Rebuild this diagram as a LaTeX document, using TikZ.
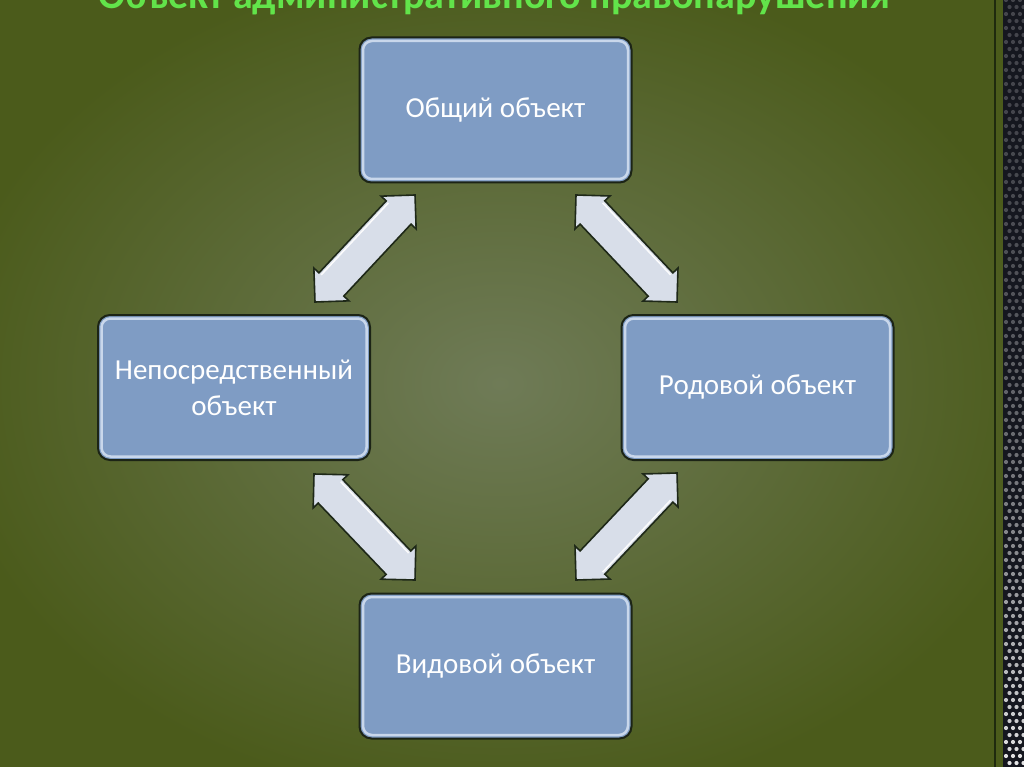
\documentclass[tikz,border=0pt]{standalone}
\usepackage{fontspec}
\setmainfont{Carlito}
\usetikzlibrary{calc}
\definecolor{bgin}{HTML}{6F7B57}
\definecolor{bgout}{HTML}{4B5B1B}
\definecolor{boxfill}{HTML}{7F9CC4}
\definecolor{boxline}{HTML}{1C2416}
\definecolor{boxlight}{HTML}{D6E2F2}
\definecolor{arrfill}{HTML}{D8DEE9}
\definecolor{arrline}{HTML}{1E2818}
\definecolor{titlegreen}{HTML}{62E44A}
\definecolor{stripbase}{HTML}{15171F}
\definecolor{stripline}{HTML}{1F2A0E}
\tikzset{
  diagbox/.style={draw=boxline, line width=2pt, fill=boxfill, rounded corners=12pt,
    minimum width=272pt, minimum height=145pt, text=white, align=center, inner sep=0pt,
    font=\fontsize{29}{36}\selectfont,
    path picture={\draw[boxlight, line width=2.5pt, rounded corners=9pt, opacity=0.85]
      ($(path picture bounding box.south west)+(3.5,-3.5)$) rectangle
      ($(path picture bounding box.north east)+(-3.5,3.5)$);}},
  blockarrow/.style={fill=arrfill, draw=arrline, line width=1.6pt, line join=miter},
  titletext/.style={text=titlegreen, font=\bfseries\fontsize{40}{44}\selectfont, inner sep=0pt}
}
\newcommand\blockarr[3]{%
  \coordinate (#3ba) at ($(#1)!24pt!(#2)$);
  \coordinate (#3bb) at ($(#2)!24pt!(#1)$);
  \filldraw[blockarrow] (#1)
    -- ($(#3ba)!24pt!90:(#2)$)
    -- ($(#3ba)!17pt!90:(#2)$)
    -- ($(#3bb)!17pt!-90:(#1)$)
    -- ($(#3bb)!24pt!-90:(#1)$)
    -- (#2)
    -- ($(#3bb)!24pt!90:(#1)$)
    -- ($(#3bb)!17pt!90:(#1)$)
    -- ($(#3ba)!17pt!-90:(#2)$)
    -- ($(#3ba)!24pt!-90:(#2)$)
    -- cycle;
  \draw[white, line width=1.6pt, opacity=0.9]
    ($(#3ba)!14pt!90:(#2)$) -- ($(#3bb)!14pt!-90:(#1)$);
}
\begin{document}
\begin{tikzpicture}[x=1pt,y=-1pt]
\useasboundingbox (0,0) rectangle (1024,767);
\clip (0,0) rectangle (1024,767);
% background
\shade[inner color=bgin, outer color=bgout] (-60,-40) rectangle (1060,807);
% right strip
\fill[stripbase] (1003,0) rectangle (1024,767);
\foreach \r in {0,...,110} {
  \pgfmathsetmacro\yy{\r*7}
  \pgfmathtruncatemacro\pp{20+70*(\yy/767)^2.5}
  \foreach \c in {0,1,2} {
    \pgfmathsetmacro\xx{1006+\c*7+mod(\r,2)*3.5}
    \fill[white!\pp!stripbase] (\xx,\yy) circle (2.1pt);
  }
}
\draw[stripline, line width=1.6pt] (995,0) -- (995,767);
% title (cut off at top)
\node[titletext, anchor=base] (title) at (494,9) {Объект административного правонарушения};
% boxes
\node[diagbox] (top) at (495.5,110) {Общий объект};
\node[diagbox] (left) at (234,387.5) {Непосредственный\\объект};
\node[diagbox] (right) at (757.5,387.5) {Родовой объект};
\node[diagbox] (bottom) at (495.5,666) {Видовой объект};
% arrow end points
\coordinate (a1s) at (315,302);
\coordinate (a1e) at (415,195);
\coordinate (a2s) at (576,195);
\coordinate (a2e) at (677,302);
\coordinate (a3s) at (314,474);
\coordinate (a3e) at (415,580);
\coordinate (a4s) at (677,473);
\coordinate (a4e) at (576,580);
\blockarr{a1s}{a1e}{ar1}
\blockarr{a2s}{a2e}{ar2}
\blockarr{a3s}{a3e}{ar3}
\blockarr{a4s}{a4e}{ar4}
\end{tikzpicture}
\end{document}
